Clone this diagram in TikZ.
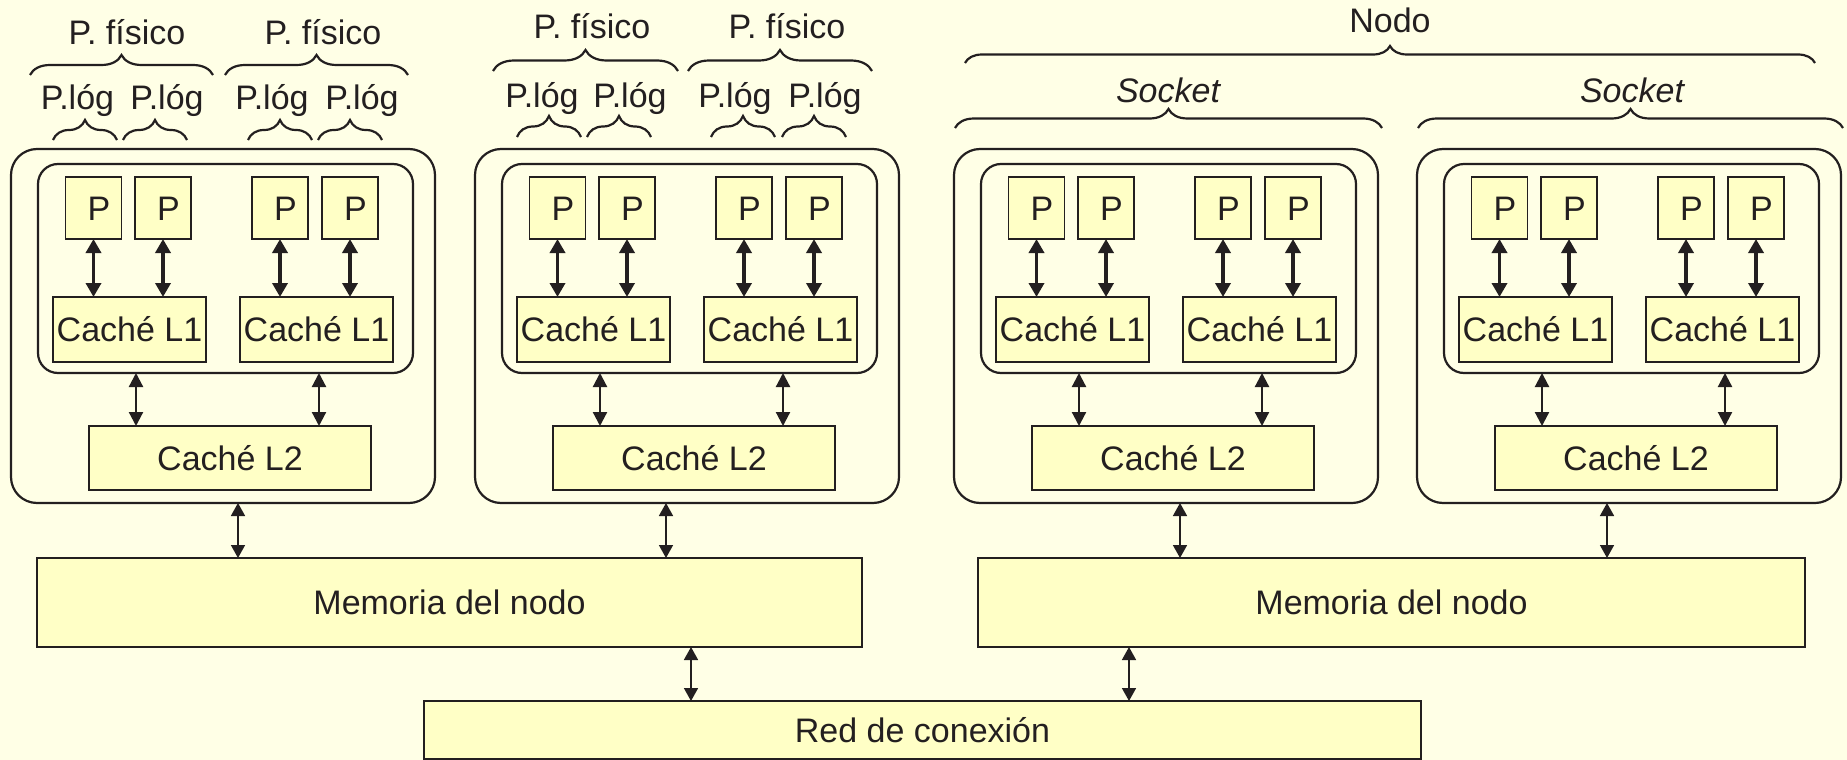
\documentclass[tikz,border=0pt]{standalone}
\usepackage{fontspec}
\setmainfont{Liberation Sans}
\usetikzlibrary{arrows.meta,decorations.pathreplacing,calc}
\definecolor{bgc}{RGB}{255,255,230}
\definecolor{boxc}{RGB}{255,255,198}
\definecolor{inkc}{RGB}{35,31,32}
\tikzset{
  basenode/.style={inner sep=0pt,outer sep=0pt,text height=24pt,text depth=0pt,
    font=\fontsize{34}{40}\selectfont,text=inkc},
  ybox/.style={basenode,rectangle,draw=inkc,fill=boxc,line width=1.8pt},
  rbox/.style={basenode,rectangle,draw=inkc,line width=2.2pt,rounded corners=#1},
  rbox/.default=25pt,
  lbl/.style={font=\fontsize{34}{40}\selectfont,text=inkc,inner sep=0pt,anchor=base},
  brc/.style={draw=inkc,line width=2.2pt,decorate,decoration={brace,amplitude=#1}},
  brc/.default=20pt,
  parr/.style={draw=inkc,line width=3.5pt,
    {Triangle[width=15pt,length=14pt]}-{Triangle[width=15pt,length=14pt]}},
  carr/.style={draw=inkc,line width=2.2pt,
    {Triangle[width=14pt,length=14pt]}-{Triangle[width=14pt,length=14pt]}},
  marr/.style={draw=inkc,line width=1.6pt,
    {Triangle[width=14pt,length=13pt]}-{Triangle[width=14pt,length=13pt]}},
}
\newcommand{\cpublock}[2]{%
\begin{scope}[shift={(#1,0)}]
  \node[rbox=26pt,minimum width=424pt,minimum height=354pt] (#2o) at (223,326) {};
  \node[rbox=20pt,minimum width=375pt,minimum height=209pt] (#2i) at (225.5,268.5) {};
  \node[ybox,minimum width=56pt,minimum height=62pt] (#2p1) at (93.5,208) {\hspace*{11pt}P};
  \node[ybox,minimum width=56pt,minimum height=62pt] (#2p2) at (163,208) {\hspace*{11pt}P};
  \node[ybox,minimum width=56pt,minimum height=62pt] (#2p3) at (280,208) {\hspace*{11pt}P};
  \node[ybox,minimum width=56pt,minimum height=62pt] (#2p4) at (350,208) {\hspace*{11pt}P};
  \node[ybox,minimum width=153pt,minimum height=65pt] (#2c1) at (129.5,329.5) {Caché L1};
  \node[ybox,minimum width=153pt,minimum height=65pt] (#2c2) at (316.5,329.5) {Caché L1};
  \node[ybox,minimum width=282pt,minimum height=64pt] (#2l2) at (230,458) {Caché L2};
  \draw[parr] (#2p1.south) -- (#2p1.south |- #2c1.north);
  \draw[parr] (#2p2.south) -- (#2p2.south |- #2c1.north);
  \draw[parr] (#2p3.south) -- (#2p3.south |- #2c2.north);
  \draw[parr] (#2p4.south) -- (#2p4.south |- #2c2.north);
  \coordinate (#2a1) at ($(#2l2.north west)+(47,0)$);
  \coordinate (#2a2) at ($(#2l2.north east)+(-52,0)$);
  \draw[carr] (#2a1 |- #2i.south) -- (#2a1);
  \draw[carr] (#2a2 |- #2i.south) -- (#2a2);
\end{scope}}
\begin{document}
\begin{tikzpicture}[x=1pt,y=-1pt]
  \useasboundingbox (0,0) rectangle (1847,760);
  \fill[bgc] (0,0) rectangle (1847,760);

  \cpublock{0}{a}
  \cpublock{464}{b}
  \cpublock{943}{c}
  \cpublock{1406}{d}

  % memories and network
  \node[ybox,minimum width=825pt,minimum height=89pt] (m1) at (449.5,602.5) {Memoria del nodo};
  \node[ybox,minimum width=827pt,minimum height=89pt] (m2) at (1391.5,602.5) {Memoria del nodo};
  \node[ybox,minimum width=997pt,minimum height=58pt] (red) at (922.5,730) {Red de conexión};

  \coordinate (xa) at (238,0);
  \coordinate (xb) at (666,0);
  \coordinate (xc) at (1180,0);
  \coordinate (xd) at (1607,0);
  \coordinate (r1) at (691,0);
  \coordinate (r2) at (1129,0);
  \draw[marr] (xa |- ao.south) -- (xa |- m1.north);
  \draw[marr] (xb |- bo.south) -- (xb |- m1.north);
  \draw[marr] (xc |- co.south) -- (xc |- m2.north);
  \draw[marr] (xd |- do.south) -- (xd |- m2.north);
  \draw[marr] (r1 |- m1.south) -- (r1 |- red.north);
  \draw[marr] (r2 |- m2.south) -- (r2 |- red.north);

  % labels block 1
  \draw[brc] (30,75) -- (213,75);
  \draw[brc] (225,75) -- (408,75);
  \node[lbl] (fa1) at (127,45) {P. físico};
  \node[lbl] (fa2) at (323,45) {P. físico};
  \draw[brc] (53,140) -- (117,140);
  \draw[brc] (123,140) -- (187,140);
  \draw[brc] (248,140) -- (312,140);
  \draw[brc] (318,140) -- (382,140);
  \node[lbl] (la1) at (77.5,110) {P.lóg};
  \node[lbl] (la2) at (167,110) {P.lóg};
  \node[lbl] (la3) at (272,110) {P.lóg};
  \node[lbl] (la4) at (362,110) {P.lóg};

  % labels block 2
  \draw[brc=21pt] (493,71) -- (678,71);
  \draw[brc=21pt] (688,71) -- (872,71);
  \node[lbl] (fb1) at (592,39) {P. físico};
  \node[lbl] (fb2) at (787,39) {P. físico};
  \draw[brc=21pt] (517,137) -- (581,137);
  \draw[brc=21pt] (587,137) -- (651,137);
  \draw[brc=21pt] (711,137) -- (775,137);
  \draw[brc=21pt] (782,137) -- (846,137);
  \node[lbl] (lb1) at (542,107) {P.lóg};
  \node[lbl] (lb2) at (630,107) {P.lóg};
  \node[lbl] (lb3) at (735,107) {P.lóg};
  \node[lbl] (lb4) at (825,107) {P.lóg};

  % labels node / sockets
  \draw[brc=17pt] (965,63) -- (1815,63);
  \node[lbl] (nodo) at (1390,33) {Nodo};
  \draw[brc=19pt] (955,128) -- (1382,128);
  \draw[brc=19pt] (1418,128) -- (1843,128);
  \node[lbl,font=\fontsize{34}{40}\selectfont\itshape] (s1) at (1168,102) {Socket};
  \node[lbl,font=\fontsize{34}{40}\selectfont\itshape] (s2) at (1632,102) {Socket};
\end{tikzpicture}
\end{document}
